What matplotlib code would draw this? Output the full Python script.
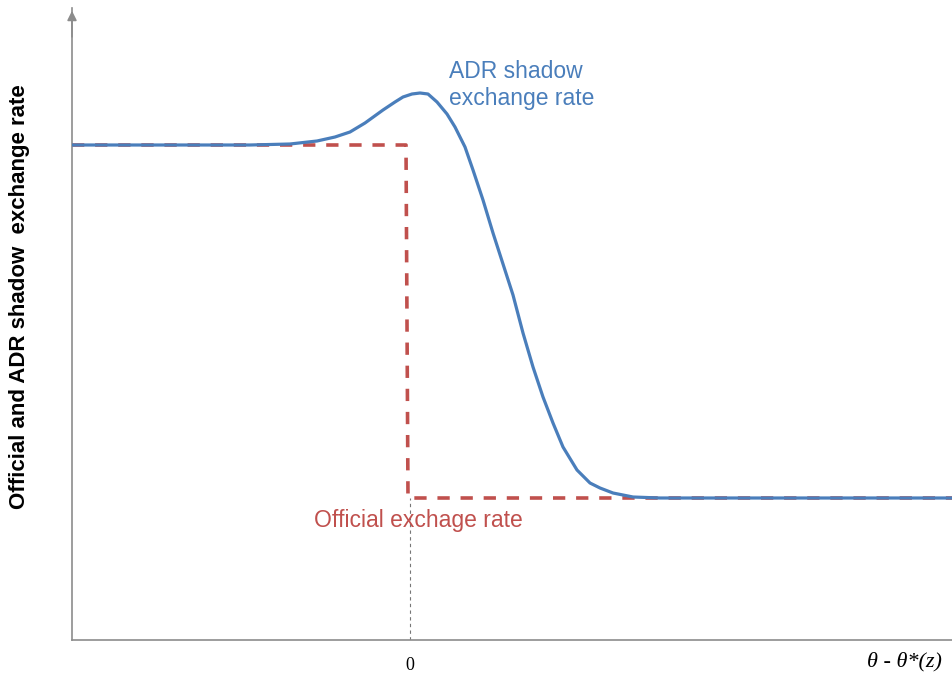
import matplotlib.pyplot as plt

# ADR shadow exchange rate (blue curve), x = theta - theta*(z)
adr_x = [-3.38, -1.60, -1.20, -0.93, -0.75, -0.60, -0.45, -0.27, -0.15, -0.07,
         0.02, 0.10, 0.18, 0.27, 0.37, 0.45, 0.55, 0.63, 0.73, 0.83, 0.93,
         1.03, 1.13, 1.23, 1.33, 1.43, 1.53, 1.67, 1.80, 1.90, 2.03, 2.23,
         2.50, 5.43]
adr_y = [4.95, 4.95, 4.96, 4.99, 5.03, 5.08, 5.17, 5.30, 5.38, 5.43,
         5.46, 5.47, 5.46, 5.38, 5.26, 5.13, 4.93, 4.70, 4.40, 4.07, 3.76,
         3.45, 3.07, 2.73, 2.43, 2.17, 1.93, 1.70, 1.57, 1.52, 1.47, 1.43,
         1.42, 1.42]

# official exchange rate (red dashed step)
off_x = [-3.38, -0.04, -0.02, 5.43]
off_y = [4.95, 4.95, 1.42, 1.42]

blue = '#4a7ebb'
red = '#c0504d'
grey = '#8c8c8c'

fig = plt.figure(figsize=(9.53, 6.79), dpi=100)
ax = fig.add_axes([72/953, 39/679, 881/953, 632/679])

ax.plot(off_x, off_y, color=red, lw=2.6, dashes=(3.4, 3.0), zorder=2)
ax.plot(adr_x, adr_y, color=blue, lw=2.3, zorder=3,
        solid_joinstyle='round', solid_capstyle='round')

# thin dashed guide at zero
ax.plot([0, 0], [0, 1.42], color='#777777', lw=0.8, dashes=(3, 3), zorder=1)

ax.set_xlim(-3.38, 5.43)
ax.set_ylim(0, 6.32)

for s in ['top', 'right']:
    ax.spines[s].set_visible(False)
ax.spines['left'].set_color(grey)
ax.spines['bottom'].set_color(grey)
ax.spines['left'].set_linewidth(1.2)
ax.spines['bottom'].set_linewidth(1.2)

# arrow at top of the y axis
ax.annotate('', xy=(0, 1.0), xytext=(0, 0.95), xycoords='axes fraction',
            arrowprops=dict(arrowstyle='-|>', color=grey, lw=1.2,
                            mutation_scale=14), annotation_clip=False)

ax.set_xticks([0])
ax.set_xticklabels(['0'], fontsize=13, family='Liberation Serif')
ax.tick_params(axis='x', length=0, pad=12)
ax.set_yticks([])

ax.text(5.32, -0.22, r'θ - θ*(z)', fontsize=16, family='Liberation Serif',
        style='italic', ha='right', va='center')

ax.text(0.39, 5.55, 'ADR shadow\nexchange rate', color=blue, fontsize=16.5,
        family='Liberation Sans', ha='left', va='center', linespacing=1.25)
ax.text(0.08, 1.20, 'Official exchage rate', color=red, fontsize=16.5,
        family='Liberation Sans', ha='center', va='center')

fig.text(20/953, 1 - 297/679, 'Official and ADR shadow  exchange rate',
         rotation=90, fontsize=16, fontweight='bold',
         family='Liberation Sans', ha='center', va='center')

fig.savefig('out.png', dpi=100)
